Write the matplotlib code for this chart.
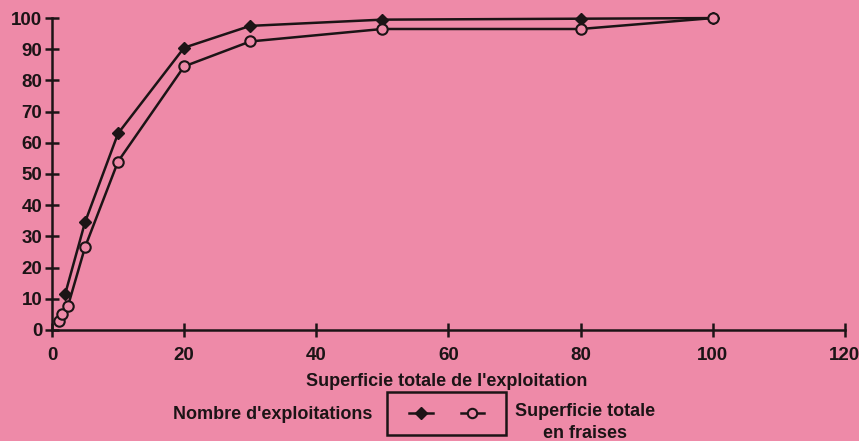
import matplotlib as mpl
mpl.use('Agg')
import matplotlib.pyplot as plt
from matplotlib.patches import Rectangle

plt.rcParams['font.family'] = ['Liberation Sans', 'DejaVu Sans']

# cumulative % by farm size (ha)
x_nb = [2, 5, 10, 20, 30, 50, 80, 100]
nb_exploitations = [11.5, 34.5, 63, 90.5, 97.5, 99.5, 99.8, 100]

x_sup = [1, 1.5, 2.4, 5, 10, 20, 30, 50, 80, 100]
sup_fraises = [3, 5, 7.5, 26.5, 54, 84.5, 92.5, 96.5, 96.5, 100]

bg = '#EE8AA8'
ink = '#1c1416'

fig = plt.figure(figsize=(8.59, 4.41), dpi=100, facecolor=bg)
ax = fig.add_axes([0.0605, 0.252, 0.923, 0.707], facecolor=bg)

l1, = ax.plot(x_nb, nb_exploitations, color=ink, lw=1.8, marker='D', ms=6.5,
              mfc=ink, mec=ink, clip_on=False)
l2, = ax.plot(x_sup, sup_fraises, color=ink, lw=1.8, marker='o', ms=7.5,
              mfc=bg, mec=ink, mew=1.5, clip_on=False)

ax.set_xlim(0, 120)
ax.set_ylim(0, 100)
ax.set_xticks(range(0, 121, 20))
ax.set_yticks(range(0, 101, 10))
for s in ['top', 'right']:
    ax.spines[s].set_visible(False)
for s in ['left', 'bottom']:
    ax.spines[s].set_linewidth(1.8)
    ax.spines[s].set_color(ink)
ax.tick_params(direction='inout', length=10, width=1.8, color=ink,
               labelsize=13.5, labelcolor=ink)
ax.tick_params(axis='x', pad=7)
ax.tick_params(axis='y', pad=2)
for t in ax.get_xticklabels() + ax.get_yticklabels():
    t.set_fontweight('bold')

ax.set_xlabel("Superficie totale de l'exploitation", fontsize=13,
              fontweight='bold', color=ink, va='center')
ax.xaxis.set_label_coords(0.498, -0.165)

leg = fig.legend([l1, l2], ['', ''], ncol=2, loc='center',
                 bbox_to_anchor=(0.52, 0.062), frameon=False,
                 handlelength=1.7, markerscale=0.9, columnspacing=2.0,
                 handletextpad=0.0)
fig.patches.append(Rectangle((0.4505, 0.0136), 0.1385, 0.0975, transform=fig.transFigure,
                             fill=False, ec=ink, lw=1.8))

fig.text(0.433, 0.059, "Nombre d'exploitations", fontsize=13, fontweight='bold',
         color=ink, ha='right', va='center')
fig.text(0.5995, 0.066, "Superficie totale", fontsize=13, fontweight='bold',
         color=ink, ha='left', va='center')
fig.text(0.632, 0.018, "en fraises", fontsize=13, fontweight='bold',
         color=ink, ha='left', va='center')

fig.savefig('out.png', dpi=100, facecolor=bg)
